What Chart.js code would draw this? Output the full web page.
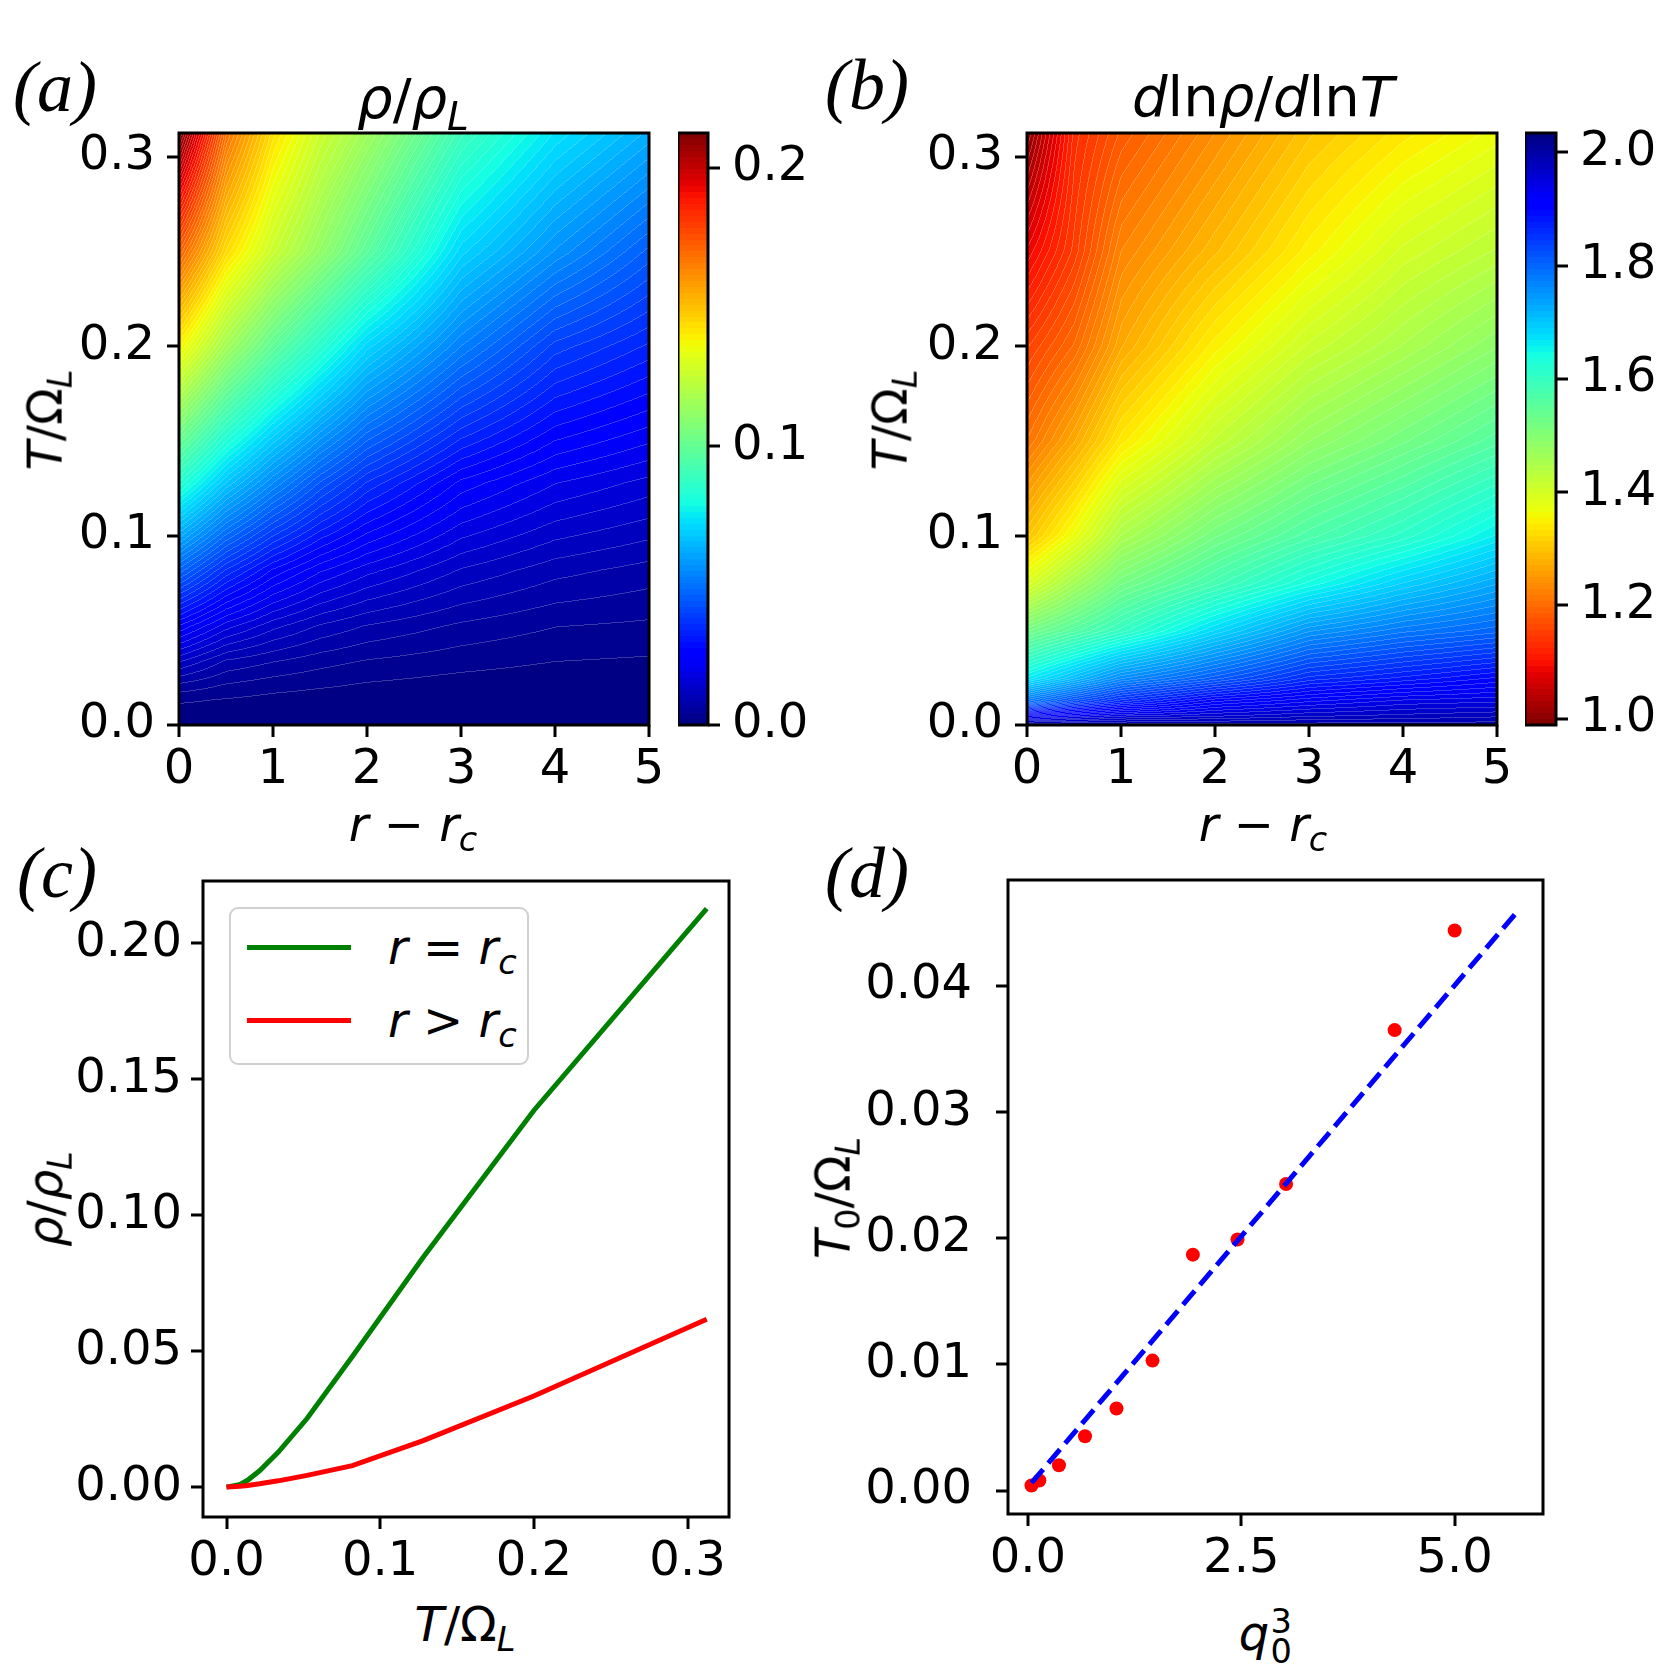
<!DOCTYPE html>
<html>
<head>
<meta charset="UTF-8">
<title>rho / rho_L maps</title>
<script src="https://cdn.jsdelivr.net/npm/chart.js@4.4.1/dist/chart.umd.min.js"></script>
<style>
  body { margin: 0; background: #fff; }
  #fig { position: relative; width: 1667px; height: 1667px; overflow: hidden; font-family: "DejaVu Sans", sans-serif; color: #000; }
  #fig canvas { position: absolute; }
  .lbl { position: absolute; transform: translate(-50%, -50%); white-space: nowrap; font-size: 48px; line-height: 1.1; }
  .rot { transform: translate(-50%, -50%) rotate(-90deg); }
  .title { font-size: 56px; }
  .panel { font-family: "Liberation Serif", serif; font-style: italic; font-size: 72px; }
  i { font-style: italic; }
  sub { font-size: 0.7em; vertical-align: -0.3em; line-height: 0; }
  .ss { position: relative; display: inline-block; width: 0.5em; height: 1em; vertical-align: baseline; }
  .ss span { position: absolute; left: 0.04em; font-size: 0.7em; line-height: 1; }
  .ss .up { top: 0.1em; }
  .ss .dn { top: 0.97em; }
  #legend { position: absolute; border: 2px solid #d0d0d0; border-radius: 9px; background: #fff; box-sizing: border-box; }
  #legend .row { position: absolute; left: 0; width: 100%; height: 0; }
  #legend .sw { position: absolute; height: 5px; }
  #legend .tx { position: absolute; transform: translateY(-50%); font-size: 48px; white-space: nowrap; line-height: 1.1; }
</style>
</head>
<body>
<div id="fig">
  <canvas id="cA"></canvas>
  <canvas id="cbA"></canvas>
  <canvas id="cB"></canvas>
  <canvas id="cbB"></canvas>
  <canvas id="cC"></canvas>
  <canvas id="cD"></canvas>
</div>
<script>
// (a) rho/rho_L on the (r - r_c, T/Omega_L) grid, one row per T value
const rhoR = [0, 0.5, 1, 1.5, 2, 3, 4, 5];
const rhoT = [0, 0.0137, 0.0215, 0.0336, 0.0524, 0.0819, 0.128, 0.2, 0.25, 0.3125];
const rhoGrid = [
  [0, 0, 0, 0, 0, 0, 0, 0],
  [0.0025, 0.0020, 0.0014, 0.0010, 0.0008, 0.0005, 0.00035, 0.0003],
  [0.0060, 0.0041, 0.0031, 0.0025, 0.0019, 0.0012, 0.00085, 0.0008],
  [0.0128, 0.0080, 0.0064, 0.0050, 0.0040, 0.0029, 0.0021, 0.0018],
  [0.0252, 0.0179, 0.0134, 0.0103, 0.0083, 0.0059, 0.0043, 0.0038],
  [0.0480, 0.0358, 0.0272, 0.0216, 0.0178, 0.0125, 0.0093, 0.0076],
  [0.0845, 0.0678, 0.0552, 0.0443, 0.0358, 0.0248, 0.0192, 0.0162],
  [0.1385, 0.1160, 0.0990, 0.0850, 0.0710, 0.0530, 0.0394, 0.0335],
  [0.1715, 0.1440, 0.1260, 0.1120, 0.0980, 0.0710, 0.0570, 0.0460],
  [0.2127, 0.1680, 0.1430, 0.1270, 0.1150, 0.0900, 0.0740, 0.0630]
];
const rhoMin = 0, rhoMax = 0.2124;

// (b) dln(rho)/dln(T)
const slopeR = [0, 0.5, 1, 2, 3, 4, 5];
const slopeT = [0, 0.005, 0.0125, 0.025, 0.05, 0.075, 0.1, 0.15, 0.2, 0.25, 0.3125];
const slopeGrid = [
  [2.00, 2.00, 2.00, 2.00, 2.00, 2.00, 2.00],
  [1.92, 1.935, 1.95, 1.96, 1.97, 1.975, 1.98],
  [1.785, 1.83, 1.865, 1.91, 1.93, 1.945, 1.95],
  [1.66, 1.71, 1.76, 1.81, 1.86, 1.88, 1.90],
  [1.52, 1.56, 1.60, 1.68, 1.75, 1.78, 1.80],
  [1.39, 1.46, 1.52, 1.58, 1.64, 1.69, 1.73],
  [1.30, 1.37, 1.45, 1.52, 1.57, 1.61, 1.66],
  [1.21, 1.27, 1.34, 1.42, 1.48, 1.52, 1.56],
  [1.155, 1.20, 1.27, 1.35, 1.41, 1.45, 1.49],
  [1.086, 1.15, 1.23, 1.29, 1.35, 1.40, 1.43],
  [1.00, 1.13, 1.18, 1.24, 1.30, 1.34, 1.37]
];
const slopeMin = 0.989, slopeMax = 2.034;

// (c) rho/rho_L against T/Omega_L
const tempC = [0, 0.0088, 0.0137, 0.0215, 0.0336, 0.0524, 0.0819, 0.128, 0.2, 0.3125];
const rhoAtCrit = [0, 0.0010, 0.0025, 0.0060, 0.0128, 0.0252, 0.0480, 0.0845, 0.1385, 0.2127];
const rhoAboveCrit = [0, 0.0003, 0.0006, 0.0012, 0.0023, 0.0043, 0.0079, 0.0171, 0.0335, 0.0617];

// (d) T_0/Omega_L against q_0^3, with linear fit
const q0cubed = [0.042, 0.134, 0.364, 0.669, 1.038, 1.460, 1.933, 2.456, 3.025, 4.297, 5.000];
const t0 = [0.0004, 0.0008, 0.0020, 0.0043, 0.0065, 0.0103, 0.0187, 0.0199, 0.0243, 0.0365, 0.0444];
const fitQ = [0.042, 5.76];
const fitT0 = [0.0006, 0.0461];

// tick values
const rTicks = [0, 1, 2, 3, 4, 5];
const tTicks = [0, 0.1, 0.2, 0.3];
const rhoBarTicks = [0, 0.1, 0.2];
const slopeBarTicks = [1.0, 1.2, 1.4, 1.6, 1.8, 2.0];
const cXTicks = [0, 0.1, 0.2, 0.3];
const cYTicks = [0, 0.05, 0.10, 0.15, 0.20];
const dXTicks = [0, 2.5, 5.0];
const dYTicks = [0, 0.01, 0.02, 0.03, 0.04];

const NLEV = 100;

Chart.defaults.animation = false;
Chart.defaults.events = [];
Chart.defaults.font.family = 'DejaVu Sans';
Chart.defaults.plugins.legend.display = false;
Chart.defaults.plugins.tooltip.enabled = false;

// matplotlib jet
const JET = {
  r: [[0, 0], [0.35, 0], [0.66, 1], [0.89, 1], [1, 0.5]],
  g: [[0, 0], [0.125, 0], [0.375, 1], [0.64, 1], [0.91, 0], [1, 0]],
  b: [[0, 0.5], [0.11, 1], [0.34, 1], [0.65, 0], [1, 0]]
};
function seg(s, f) {
  for (let i = 0; i < s.length - 1; i++) {
    if (f <= s[i + 1][0]) {
      const t = (f - s[i][0]) / (s[i + 1][0] - s[i][0]);
      return s[i][1] + t * (s[i + 1][1] - s[i][1]);
    }
  }
  return s[s.length - 1][1];
}
function jet(f) {
  f = Math.min(1, Math.max(0, f));
  return [seg(JET.r, f), seg(JET.g, f), seg(JET.b, f)].map(c => Math.round(c * 255));
}
function palette(reversed) {
  const p = [];
  for (let k = 0; k < NLEV; k++) {
    const f = (k + 0.5) / NLEV;
    p.push(jet(reversed ? 1 - f : f));
  }
  return p;
}
function toBand(v, vmin, vmax) {
  const k = Math.floor((v - vmin) / (vmax - vmin) * NLEV);
  return Math.min(NLEV - 1, Math.max(0, k));
}
function locate(arr, v) {
  if (v <= arr[0]) return [0, 0];
  for (let i = 0; i < arr.length - 1; i++) {
    if (v <= arr[i + 1]) return [i, (v - arr[i]) / (arr[i + 1] - arr[i])];
  }
  return [arr.length - 2, 1];
}

// filled contour map, shaded per pixel through the chart's scales
function heatmap(xs, ys, grid, vmin, vmax, reversed) {
  const pal = palette(reversed);
  return {
    id: 'heatmap',
    beforeDatasetsDraw(chart) {
      const { ctx, chartArea: a, scales } = chart;
      const x0 = Math.round(a.left), y0 = Math.round(a.top);
      const w = Math.round(a.right) - x0, h = Math.round(a.bottom) - y0;
      const px = [], py = [];
      for (let i = 0; i < w; i++) px.push(locate(xs, scales.x.getValueForPixel(x0 + i + 0.5)));
      for (let j = 0; j < h; j++) py.push(locate(ys, scales.y.getValueForPixel(y0 + j + 0.5)));
      const band = new Int32Array(w * h);
      for (let j = 0; j < h; j++) {
        const [jy, ty] = py[j];
        const g0 = grid[jy], g1 = grid[jy + 1];
        for (let i = 0; i < w; i++) {
          const [ix, tx] = px[i];
          const v = (1 - ty) * ((1 - tx) * g0[ix] + tx * g0[ix + 1]) + ty * ((1 - tx) * g1[ix] + tx * g1[ix + 1]);
          band[j * w + i] = toBand(v, vmin, vmax);
        }
      }
      const img = ctx.createImageData(w, h);
      const d = img.data;
      for (let j = 0; j < h; j++) {
        for (let i = 0; i < w; i++) {
          const n = j * w + i, k = band[n];
          const c = pal[k];
          const seam = (i > 0 && band[n - 1] !== k) || (j > 0 && band[n - w] !== k);
          const m = seam ? 0.22 : 0;
          d[n * 4] = c[0] + (255 - c[0]) * m;
          d[n * 4 + 1] = c[1] + (255 - c[1]) * m;
          d[n * 4 + 2] = c[2] + (255 - c[2]) * m;
          d[n * 4 + 3] = 255;
        }
      }
      ctx.putImageData(img, x0, y0);
    }
  };
}

function colorbar(vmin, vmax, reversed) {
  const pal = palette(reversed);
  return {
    id: 'colorbar',
    beforeDatasetsDraw(chart) {
      const { ctx, chartArea: a, scales } = chart;
      for (let y = Math.round(a.top); y < Math.round(a.bottom); y++) {
        const c = pal[toBand(scales.y.getValueForPixel(y + 0.5), vmin, vmax)];
        ctx.fillStyle = `rgb(${c[0]},${c[1]},${c[2]})`;
        ctx.fillRect(a.left, y, a.right - a.left, 1);
      }
    }
  };
}

Chart.register({
  id: 'frame',
  afterDraw(chart) {
    const { ctx, chartArea: a } = chart;
    ctx.save();
    ctx.strokeStyle = '#000';
    ctx.lineWidth = 3;
    ctx.strokeRect(a.left, a.top, a.right - a.left, a.bottom - a.top);
    ctx.restore();
  }
});

function place(id, left, top, w, h) {
  const c = document.getElementById(id);
  c.width = w; c.height = h;
  c.style.left = left + 'px';
  c.style.top = top + 'px';
  return c;
}

// fixed-size axis: size is the width (y) or height (x) of the axis box
function axis(min, max, ticks, digits, size, pad, extra) {
  return Object.assign({
    type: 'linear', min: min, max: max,
    afterBuildTicks: s => { s.ticks = ticks.map(v => ({ value: v })); },
    afterFit: s => {
      if (s.isHorizontal()) s.height = size; else s.width = size;
      s.paddingTop = s.paddingBottom = s.paddingLeft = s.paddingRight = 0;
    },
    ticks: {
      callback: v => v.toFixed(digits),
      font: { family: 'DejaVu Sans', size: 48 },
      color: '#000', padding: pad, maxRotation: 0, autoSkip: false
    },
    grid: { drawOnChartArea: false, drawTicks: true, tickLength: 12, tickWidth: 3, tickColor: '#000', lineWidth: 0 },
    border: { display: false }
  }, extra);
}

// (a)
new Chart(place('cA', 0, 100, 674, 695), {
  type: 'scatter',
  data: { datasets: [] },
  options: {
    responsive: false,
    layout: { padding: { top: 33, right: 25, bottom: 0, left: 0 } },
    scales: {
      x: axis(0, 5, rTicks, 0, 70, 5),
      y: axis(0, 0.3125, tTicks, 1, 179, 12)
    }
  },
  plugins: [heatmap(rhoR, rhoT, rhoGrid, rhoMin, rhoMax, false)]
});
new Chart(place('cbA', 678, 100, 170, 695), {
  type: 'scatter',
  data: { datasets: [] },
  options: {
    responsive: false,
    layout: { padding: { top: 33, right: 0, bottom: 70, left: 0 } },
    scales: {
      x: { display: false, min: 0, max: 1 },
      y: axis(rhoMin, rhoMax, rhoBarTicks, 1, 140, 12, { position: 'right' })
    }
  },
  plugins: [colorbar(rhoMin, rhoMax, false)]
});

// (b)
new Chart(place('cB', 850, 100, 672, 695), {
  type: 'scatter',
  data: { datasets: [] },
  options: {
    responsive: false,
    layout: { padding: { top: 33, right: 25, bottom: 0, left: 0 } },
    scales: {
      x: axis(0, 5, rTicks, 0, 70, 5),
      y: axis(0, 0.3125, tTicks, 1, 177, 12)
    }
  },
  plugins: [heatmap(slopeR, slopeT, slopeGrid, slopeMin, slopeMax, true)]
});
new Chart(place('cbB', 1525, 100, 142, 695), {
  type: 'scatter',
  data: { datasets: [] },
  options: {
    responsive: false,
    layout: { padding: { top: 33, right: 0, bottom: 70, left: 0 } },
    scales: {
      x: { display: false, min: 0, max: 1 },
      y: axis(slopeMin, slopeMax, slopeBarTicks, 1, 111, 12, { position: 'right' })
    }
  },
  plugins: [colorbar(slopeMin, slopeMax, true)]
});

// (c)
const cLines = [
  { label: '<i>r</i> = <i>r</i><sub><i>c</i></sub>', data: tempC.map((t, i) => ({ x: t, y: rhoAtCrit[i] })),
    borderColor: '#008000', order: 1 },
  { label: '<i>r</i> &gt; <i>r</i><sub><i>c</i></sub>', data: tempC.map((t, i) => ({ x: t, y: rhoAboveCrit[i] })),
    borderColor: '#ff0000', order: 0 }
];
new Chart(place('cC', 0, 850, 749, 737), {
  type: 'scatter',
  data: {
    datasets: cLines.map(l => ({
      data: l.data, borderColor: l.borderColor, order: l.order,
      showLine: true, borderWidth: 5, pointRadius: 0, fill: false, tension: 0
    }))
  },
  options: {
    responsive: false,
    layout: { padding: { top: 31, right: 20, bottom: 0, left: 0 } },
    scales: {
      x: axis(-0.0153, 0.327, cXTicks, 1, 70, 5),
      y: axis(-0.011, 0.2229, cYTicks, 2, 203, 9)
    }
  }
});

// (d)
new Chart(place('cD', 760, 850, 803, 734), {
  type: 'scatter',
  data: {
    datasets: [
      { data: fitQ.map((q, i) => ({ x: q, y: fitT0[i] })), showLine: true, borderColor: '#0000ff',
        borderWidth: 5, borderDash: [18, 8], pointRadius: 0 },
      { data: q0cubed.map((q, i) => ({ x: q, y: t0[i] })), pointRadius: 7,
        backgroundColor: '#ff0000', borderWidth: 0 }
    ]
  },
  options: {
    responsive: false,
    layout: { padding: { top: 30, right: 20, bottom: 0, left: 0 } },
    scales: {
      x: axis(-0.233, 6.035, dXTicks, 1, 70, 5),
      y: axis(-0.00186, 0.0484, dYTicks, 2, 248, 24)
    }
  }
});

// text: panel letters, titles, axis labels
const fig = document.getElementById('fig');
function lbl(html, x, y, cls) {
  const el = document.createElement('div');
  el.className = 'lbl ' + (cls || '');
  el.innerHTML = html;
  el.style.left = x + 'px';
  el.style.top = y + 'px';
  fig.appendChild(el);
}
const rhoLabel = '<i>ρ</i>/<i>ρ</i><sub><i>L</i></sub>';
const tLabel = '<i>T</i>/Ω<sub><i>L</i></sub>';
const rLabel = '<i>r</i> − <i>r</i><sub><i>c</i></sub>';
lbl('(<i>a</i>)', 55, 88, 'panel');
lbl('(<i>b</i>)', 867, 86, 'panel');
lbl('(<i>c</i>)', 57, 874, 'panel');
lbl('(<i>d</i>)', 867, 874, 'panel');
lbl(rhoLabel, 413, 99, 'title');
lbl('<i>d</i>ln<i>ρ</i>/<i>d</i>ln<i>T</i>', 1263, 97, 'title');
lbl(tLabel, 45, 420, 'rot');
lbl(tLabel, 890, 420, 'rot');
lbl(rLabel, 413, 824);
lbl(rLabel, 1263, 824);
lbl(rhoLabel, 45, 1199, 'rot');
lbl(tLabel, 465, 1624);
lbl('<i>T</i><sub>0</sub>/Ω<sub><i>L</i></sub>', 833, 1198, 'rot');
lbl('<i>q</i><span class="ss"><span class="up">3</span><span class="dn">0</span></span>', 1266, 1631);

// legend of (c)
const legend = document.createElement('div');
legend.id = 'legend';
Object.assign(legend.style, { left: '229px', top: '907px', width: '300px', height: '158px' });
cLines.forEach((l, i) => {
  const row = document.createElement('div');
  row.className = 'row';
  row.style.top = (38 + i * 73) + 'px';
  const sw = document.createElement('div');
  sw.className = 'sw';
  Object.assign(sw.style, { left: '16px', width: '104px', top: '-2.5px', background: l.borderColor });
  const tx = document.createElement('div');
  tx.className = 'tx';
  tx.style.left = '157px';
  tx.innerHTML = l.label;
  row.appendChild(sw);
  row.appendChild(tx);
  legend.appendChild(row);
});
fig.appendChild(legend);
</script>
</body>
</html>
